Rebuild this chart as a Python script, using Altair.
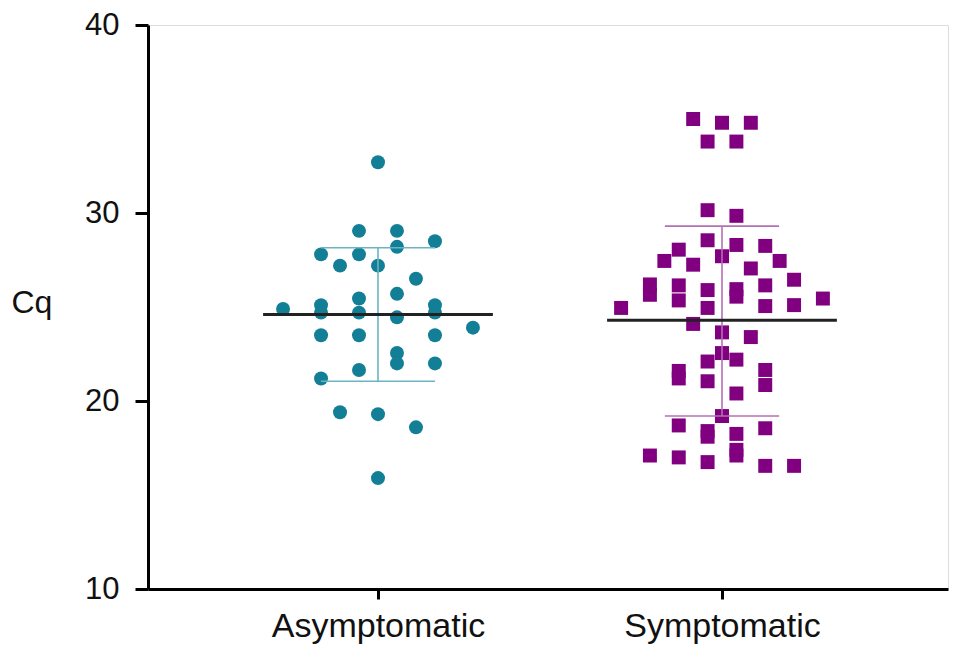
import altair as alt
import pandas as pd

groups = ["Asymptomatic", "Symptomatic"]
group_pos = [1, 2]

asym_cq = [32.7, 29.05, 29.05, 28.5, 27.8, 27.8, 28.2, 27.2, 27.2, 26.5,
           25.7, 25.45, 24.9, 25.1, 24.7, 24.7, 24.45, 25.1, 24.7, 23.9,
           23.5, 23.5, 23.5, 22.55, 22.0, 22.0, 21.65, 21.2, 19.4, 19.3,
           18.6, 15.9]
asym_col = [0, -1, 1, 3, -3, -1, 1, -2, 0, 2,
            1, -1, -5, -3, -3, -1, 1, 3, 3, 5,
            -3, -1, 3, 1, 1, 3, -1, -3, -2, 0,
            2, 0]

sym_cq = [35.0, 34.8, 34.8, 33.8, 33.8, 30.15, 29.85, 28.55, 28.3, 28.25,
          28.05, 27.7, 27.45, 27.45, 27.25, 27.05, 26.45, 26.2, 25.65, 26.15,
          25.35, 25.9, 24.95, 25.95, 25.55, 26.15, 25.05, 25.1, 25.45, 24.95,
          24.1, 23.65, 23.4, 22.55, 22.1, 22.2, 21.6, 21.2, 21.65, 21.05,
          20.85, 20.4, 19.2, 18.7, 18.4, 18.1, 18.25, 18.55, 17.1, 17.0,
          16.75, 17.4, 17.1, 16.55, 16.55]
sym_col = [-2, 0, 2, -1, 1, -1, 1, -1, 1, 3,
           -3, 0, -4, 4, -2, 2, 5, -5, -5, -3,
           -3, -1, -1, 1, 1, 3, 3, 5, 7, -7,
           -2, 0, 2, 0, -1, 1, -3, -3, 3, -1,
           3, 1, 0, -3, -1, -1, 1, 3, -5, -3,
           -1, 1, 1, 3, 5]

means = [24.6, 24.3]
sd_low = [21.05, 19.2]
sd_high = [28.15, 29.3]

jitter_step = [0.0552, 0.0419]

rows = []
for v, c in zip(asym_cq, asym_col):
    rows.append({"group": groups[0], "pos": group_pos[0] + c * jitter_step[0], "cq": v})
for v, c in zip(sym_cq, sym_col):
    rows.append({"group": groups[1], "pos": group_pos[1] + c * jitter_step[1], "cq": v})
pts = pd.DataFrame(rows)

summ = pd.DataFrame({
    "group": groups,
    "pos": group_pos,
    "mean": means,
    "lo": sd_low,
    "hi": sd_high,
})
summ["m_l"] = summ["pos"] - 0.334
summ["m_r"] = summ["pos"] + 0.334
summ["w_l"] = summ["pos"] - 0.166
summ["w_r"] = summ["pos"] + 0.166

FONT = "Liberation Sans"

xscale = alt.Scale(domain=[0.3314, 2.657], nice=False, zero=False)
yscale = alt.Scale(domain=[10, 40], nice=False, zero=False)

color_scale = alt.Scale(domain=groups, range=["#137f96", "#800080"])
shape_scale = alt.Scale(domain=groups, range=["circle", "square"])
whisker_scale = alt.Scale(domain=groups, range=["#6ab4c4", "#b470b4"])

xaxis = alt.Axis(values=[1, 2], title=None, grid=False,
                 labelExpr="datum.value == 1 ? 'Asymptomatic' : 'Symptomatic'",
                 labelFont=FONT, labelFontSize=34, labelColor="#111",
                 labelPadding=10, tickSize=10, tickWidth=3, domainWidth=3,
                 domainColor="#000", tickColor="#000", labelFlush=False,
                 labelLimit=0, labelOverlap=False)
yaxis = alt.Axis(values=[10, 20, 30, 40], title="Cq", grid=False,
                 labelFont=FONT, labelFontSize=31, labelColor="#111",
                 labelPadding=16, tickSize=13, tickWidth=3, domainWidth=3,
                 domainColor="#000", tickColor="#000", labelLimit=0,
                 titleFont=FONT, titleFontSize=32, titleFontWeight="normal",
                 titleColor="#111", titleAngle=0, titleAlign="left",
                 titleBaseline="middle", titleX=-137, titleY=277)

points = alt.Chart(pts).mark_point(filled=True, opacity=1, size=195).encode(
    x=alt.X("pos:Q", scale=xscale, axis=xaxis),
    y=alt.Y("cq:Q", scale=yscale, axis=yaxis),
    color=alt.Color("group:N", scale=color_scale, legend=None),
    shape=alt.Shape("group:N", scale=shape_scale, legend=None),
)

base = alt.Chart(summ)
vert = base.mark_rule(strokeWidth=1.6).encode(
    x=alt.X("pos:Q", scale=xscale),
    y=alt.Y("lo:Q", scale=yscale),
    y2="hi:Q",
    color=alt.Color("group:N", scale=whisker_scale, legend=None),
)
cap_hi = base.mark_rule(strokeWidth=1.6).encode(
    x=alt.X("w_l:Q", scale=xscale),
    x2="w_r:Q",
    y=alt.Y("hi:Q", scale=yscale),
    color=alt.Color("group:N", scale=whisker_scale, legend=None),
)
cap_lo = base.mark_rule(strokeWidth=1.6).encode(
    x=alt.X("w_l:Q", scale=xscale),
    x2="w_r:Q",
    y=alt.Y("lo:Q", scale=yscale),
    color=alt.Color("group:N", scale=whisker_scale, legend=None),
)
mean_line = base.mark_rule(strokeWidth=3, color="#222").encode(
    x=alt.X("m_l:Q", scale=xscale),
    x2="m_r:Q",
    y=alt.Y("mean:Q", scale=yscale),
)

chart = alt.layer(points, vert, cap_hi, cap_lo, mean_line).resolve_scale(
    color="independent"
).properties(
    width=800, height=564,
    autosize=alt.AutoSizeParams(type="none"),
    padding={"left": 140, "top": 17, "right": 12, "bottom": 64},
).configure_view(stroke=None).configure(background="white")

chart.save("out.html", embed_options={"renderer": "svg", "actions": False})
